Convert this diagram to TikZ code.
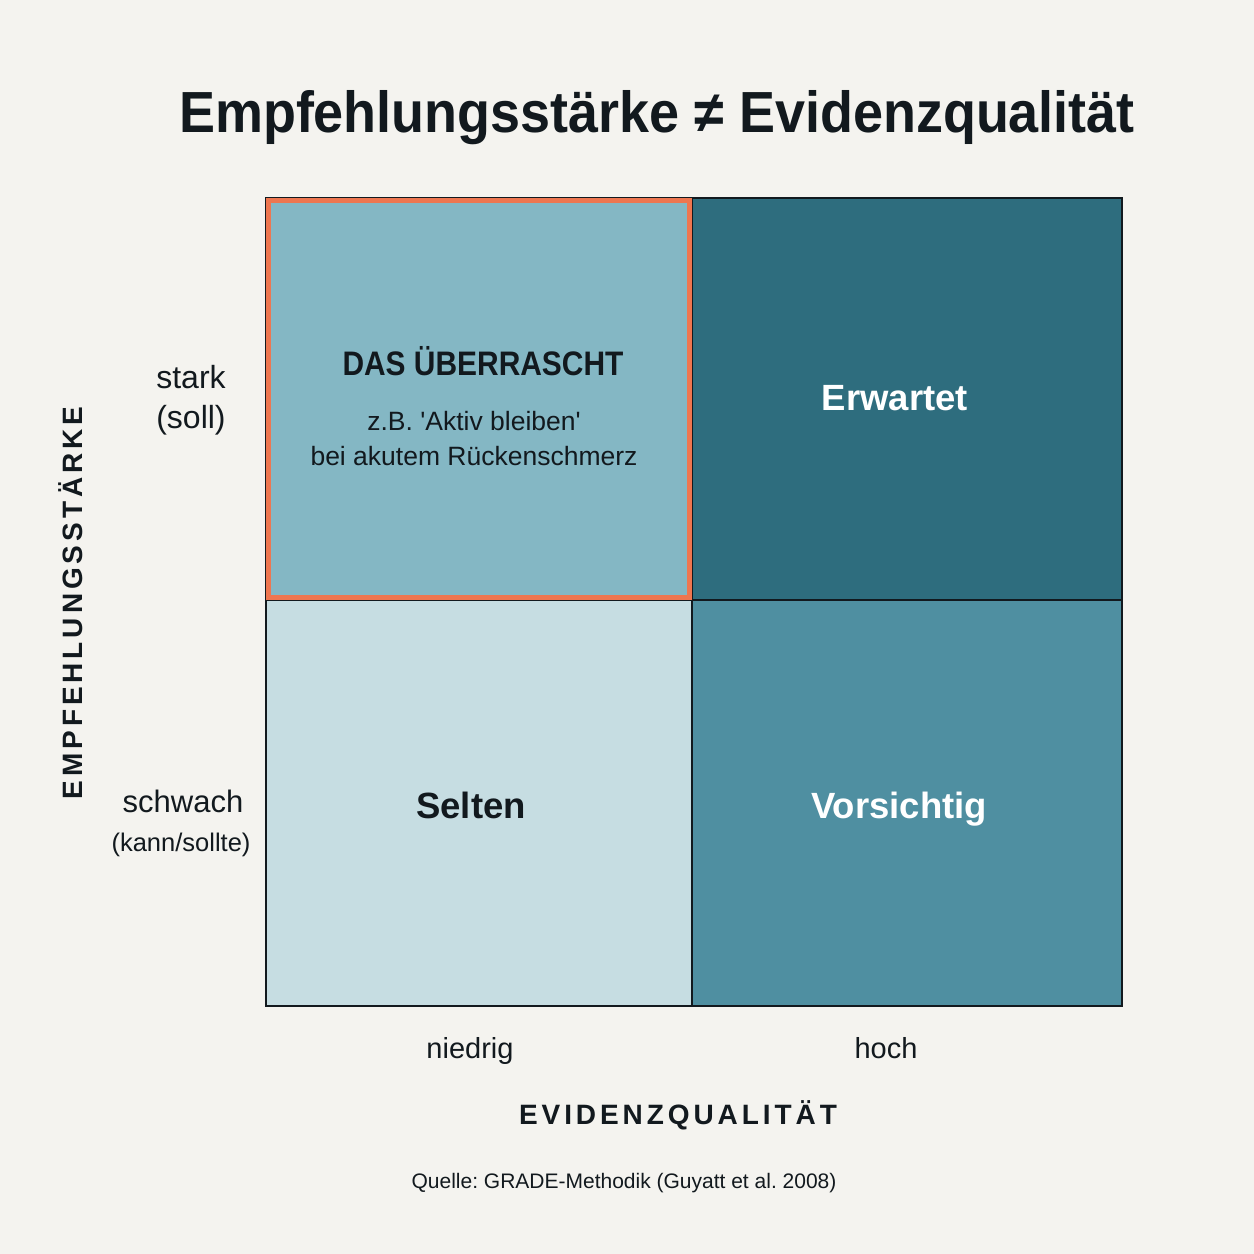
\documentclass[tikz,border=0pt]{standalone}
\usepackage{fontspec}
\setmainfont{Liberation Sans}[Ligatures=TeXOff]
\newfontfamily\spacedfont{Liberation Sans}[LetterSpace=14,Ligatures=TeXOff]
\usetikzlibrary{calc}
\frenchspacing
\definecolor{bg}{HTML}{F4F3EF}
\definecolor{ink}{HTML}{12191E}
\definecolor{cTL}{HTML}{84B7C4}
\definecolor{cTR}{HTML}{2E6D7E}
\definecolor{cBL}{HTML}{C6DDE2}
\definecolor{cBR}{HTML}{4F8FA1}
\definecolor{hl}{HTML}{EE7650}
\begin{document}
\begin{tikzpicture}[x=1pt,y=-1pt,
  cell/.style={draw=none,inner sep=0pt,outer sep=0pt,anchor=north west},
  lbl/.style={anchor=base,inner sep=0pt,text=ink},
  gridline/.style={draw=ink,line width=2.8pt},
  hlbox/.style={draw=hl,line width=5pt}]
\fill[bg] (0,0) rectangle (1254,1254);
\useasboundingbox (0,0) rectangle (1254,1254);

% title
\node[lbl] (title) at (657,132) {\scalebox{0.93}[1]{\bfseries\fontsize{58}{60}\selectfont Empfehlungsstärke ≠ Evidenzqualität}};

% cells
\node[cell,fill=cTL,minimum width=426pt,minimum height=402pt] (tl) at (266,198) {};
\node[cell,fill=cTR,minimum width=430pt,minimum height=402pt] (tr) at (692,198) {};
\node[cell,fill=cBL,minimum width=426pt,minimum height=406pt] (bl) at (266,600) {};
\node[cell,fill=cBR,minimum width=430pt,minimum height=406pt] (br) at (692,600) {};

\draw[gridline] (tl.north west) rectangle (br.south east);
\draw[gridline] (tl.north east) -- (bl.south east);
\draw[gridline] (tl.south west) -- (tr.south east);
\draw[hlbox] ($(tl.north west)+(2.5,2.5)$) rectangle ($(tl.south east)+(-2.5,-2.5)$);

% cell texts
\node[lbl] (t1) at (483,375) {\scalebox{0.88}[1]{\bfseries\fontsize{34}{36}\selectfont DAS ÜBERRASCHT}};
\node[lbl] (t1a) at (474,430) {\fontsize{26.5}{28}\selectfont z.B. 'Aktiv bleiben'};
\node[lbl] (t1b) at (474,465) {\fontsize{26.5}{28}\selectfont bei akutem Rückenschmerz};
\node[lbl,text=white] (t2) at (895,410) {\bfseries\fontsize{36.5}{38}\selectfont Erwartet};
\node[lbl] (t3) at (471,818) {\bfseries\fontsize{36.5}{38}\selectfont Selten};
\node[lbl,text=white] (t4) at (899,818) {\bfseries\fontsize{36.5}{38}\selectfont Vorsichtig};

% y-axis labels
\node[lbl] (ys1) at (191,388) {\fontsize{32}{34}\selectfont stark};
\node[lbl] (ys2) at (191,428) {\fontsize{32}{34}\selectfont (soll)};
\node[lbl] (yw1) at (183,812) {\fontsize{31}{33}\selectfont schwach};
\node[lbl] (yw2) at (181,851) {\fontsize{25.5}{27}\selectfont (kann/sollte)};
\node[lbl,rotate=90] (yax) at (82,603) {\spacedfont\bfseries\fontsize{28}{30}\selectfont EMPFEHLUNGSSTÄRKE};

% x-axis labels
\node[lbl] (xn) at (470,1058) {\fontsize{29}{31}\selectfont niedrig};
\node[lbl] (xh) at (886,1058) {\fontsize{29}{31}\selectfont hoch};
\node[lbl] (xax) at (678,1124) {\spacedfont\bfseries\fontsize{28}{30}\selectfont EVIDENZQUALITÄT};

% source
\node[lbl] (src) at (624,1188) {\fontsize{21}{23}\selectfont Quelle: GRADE-Methodik (Guyatt et al. 2008)};
\end{tikzpicture}
\end{document}
